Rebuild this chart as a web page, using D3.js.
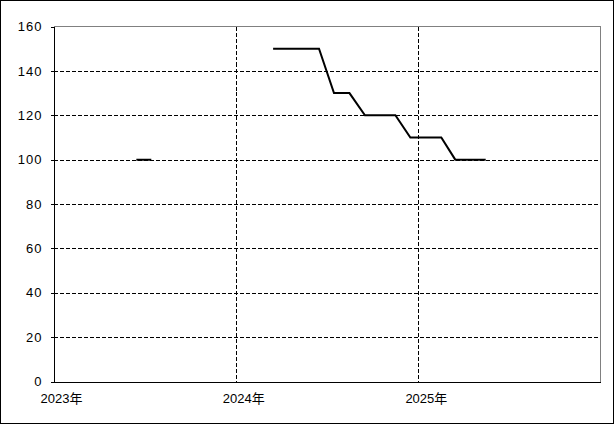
<!DOCTYPE html>
<html><head><meta charset="utf-8">
<script src="https://cdn.jsdelivr.net/npm/d3@7"></script>
<style>
html,body{margin:0;padding:0;background:#fff;}
svg{display:block;}
text{font-family:"Liberation Sans","Noto Sans CJK JP",sans-serif;font-size:13px;fill:#000;}
</style></head>
<body>
<script>
// Data (monthly, null = no value)
const months = ["2023-06","2023-07","2023-08","2023-09","2023-10","2023-11","2023-12",
  "2024-01","2024-02","2024-03","2024-04","2024-05","2024-06","2024-07","2024-08",
  "2024-09","2024-10","2024-11","2024-12","2025-01","2025-02","2025-03","2025-04","2025-05"];
const values = [100,100,null,null,null,null,null,
  null,null,150,150,150,150,130,130,
  120,120,120,110,110,110,100,100,100];
const yTicks = [0,20,40,60,80,100,120,140,160];
const xTickYears = [2023,2024,2025];
const xTickLabels = ["2023年","2024年","2025年"];

const W = 615, H = 424;
const L = 53.5, R = 600.5, T = 26.5, B = 381.5;

const svg = d3.select("body").append("svg").attr("width", W).attr("height", H);

// outer frame
svg.append("rect").attr("x",0.5).attr("y",0.5).attr("width",613).attr("height",423)
  .attr("fill","#fff").attr("stroke","#000").attr("stroke-width",1);

const parse = s => { const [y,m] = s.split("-").map(Number); return new Date(y, m-1, 16); };
const x = d3.scaleTime().domain([new Date(2023,0,1), new Date(2026,0,1)]).range([L, R]);
const y = d3.scaleLinear().domain([0,160]).range([B, T]);

// horizontal grid
svg.append("g").selectAll("line").data(yTicks.filter(v => v > 0 && v < 160)).join("line")
  .attr("x1", L).attr("x2", R).attr("y1", d => Math.round(y(d))+0.5).attr("y2", d => Math.round(y(d))+0.5)
  .attr("stroke","#000").attr("stroke-dasharray","4,2").attr("shape-rendering","crispEdges");
// vertical grid
svg.append("g").selectAll("line").data(xTickYears.slice(1)).join("line")
  .attr("x1", d => Math.round(x(new Date(d,0,1)))+0.5).attr("x2", d => Math.round(x(new Date(d,0,1)))+0.5)
  .attr("y1", T).attr("y2", B)
  .attr("stroke","#000").attr("stroke-dasharray","4,2").attr("shape-rendering","crispEdges");

// top and right border (gray)
svg.append("path").attr("d", `M${L},${T}H${R}V${B}`).attr("fill","none")
  .attr("stroke","#808080").attr("shape-rendering","crispEdges");

// y axis
const yAxis = d3.axisLeft(y).tickValues(yTicks).tickSize(3).tickPadding(8);
const gy = svg.append("g").attr("transform", `translate(${L},0)`).call(yAxis);
gy.select(".domain").attr("stroke","#000").attr("shape-rendering","crispEdges");
gy.selectAll(".tick line").attr("stroke","#000").attr("shape-rendering","crispEdges");
gy.selectAll("text").attr("font-size",13).attr("font-family",null).attr("letter-spacing","1px");

// x axis
const xAxis = d3.axisBottom(x).tickValues(xTickYears.map(v => new Date(v,0,1)))
  .tickSize(0).tickPadding(0).tickFormat((d,i) => xTickLabels[i]);
const gx = svg.append("g").attr("transform", `translate(0,${B})`).call(xAxis);
gx.select(".domain").attr("stroke","#000").attr("shape-rendering","crispEdges");
gx.selectAll("text").attr("font-size",13).attr("font-family",null)
  .attr("dy", null).attr("y", 21).attr("dx", 7.5);

// series line
const line = d3.line().defined(d => d.v != null).x(d => x(d.t)).y(d => y(d.v));
const data = months.map((m,i) => ({t: parse(m), v: values[i]}));
svg.append("path").datum(data).attr("d", line)
  .attr("fill","none").attr("stroke","#000").attr("stroke-width",2);
</script>
</body></html>
